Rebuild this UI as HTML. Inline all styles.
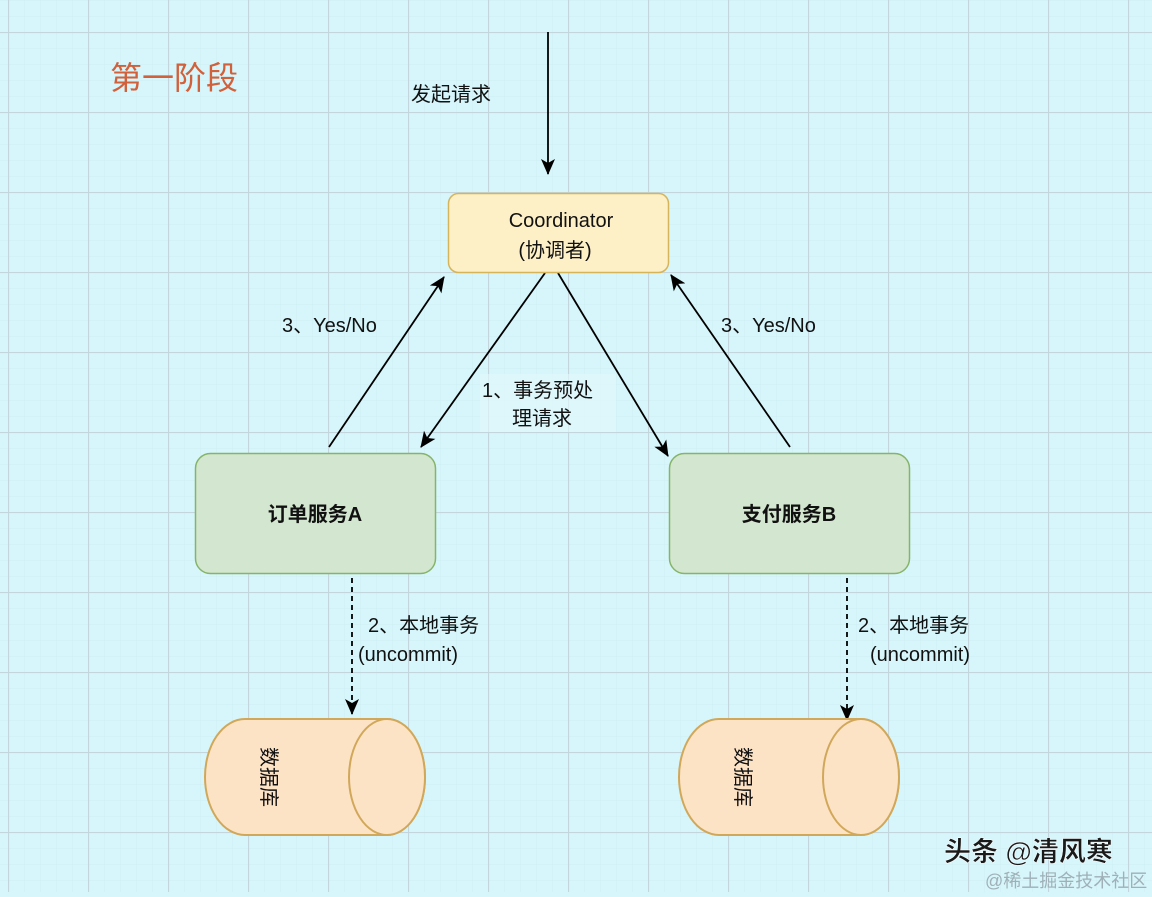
<!DOCTYPE html>
<html><head><meta charset="utf-8"><style>
html,body{margin:0;padding:0;}
body{width:1152px;height:892px;overflow:hidden;background:#d6f6fb;}
svg text{font-family:"Liberation Sans","Noto Sans CJK SC",sans-serif;}
</style></head><body>
<svg width="1152" height="892" xmlns="http://www.w3.org/2000/svg">
<defs>
<pattern id="minor" width="16" height="16" patternUnits="userSpaceOnUse" x="8" y="0">
<path d="M0 0H16M0 0V16" stroke="#cdeef3" stroke-width="1" fill="none"/>
</pattern>
<pattern id="major" width="80" height="80" patternUnits="userSpaceOnUse" x="8" y="32">
<path d="M0 0.5H80M0.5 0V80" stroke="#c3d6de" stroke-width="1.2" fill="none"/>
</pattern>
<marker id="ah" markerWidth="16" markerHeight="14" refX="15" refY="7" orient="auto" markerUnits="userSpaceOnUse" viewBox="0 0 16 14">
<path d="M0 0L16 7L0 14L4 7Z" fill="#000"/>
</marker>
</defs>
<rect width="1152" height="892" fill="#d6f6fb"/>
<rect width="1152" height="892" fill="url(#minor)"/>
<rect width="1152" height="892" fill="url(#major)"/>

<text x="110" y="89" font-size="32" fill="#d2603a">第一阶段</text>
<text x="411" y="101" font-size="20" fill="#111">发起请求</text>

<g stroke="#000" stroke-width="1.8" fill="none" marker-end="url(#ah)">
<line x1="548" y1="32" x2="548" y2="174"/>
<line x1="329" y1="447" x2="444" y2="277"/>
<line x1="545" y1="273" x2="421" y2="447"/>
<line x1="558" y1="273" x2="668" y2="456"/>
<line x1="790" y1="447" x2="671" y2="275"/>
<line x1="352" y1="578" x2="352" y2="714" stroke-dasharray="5,4"/>
<line x1="847" y1="578" x2="847" y2="720" stroke-dasharray="5,4"/>
</g>

<rect x="448.5" y="193.5" width="220" height="79" rx="10" fill="#fdf0c6" stroke="#d6b45a" stroke-width="1.5"/>
<text x="561" y="227" font-size="20" text-anchor="middle" fill="#111">Coordinator</text>
<text x="555" y="257" font-size="20" text-anchor="middle" fill="#111">(协调者)</text>

<text x="282" y="332" font-size="20" fill="#111">3、Yes/No</text>
<text x="721" y="332" font-size="20" fill="#111">3、Yes/No</text>
<rect x="480" y="374" width="136" height="58" fill="#e2f8fb" opacity="0.6"/>
<text x="482" y="397" font-size="20" fill="#111">1、事务预处</text>
<text x="512" y="425" font-size="20" fill="#111">理请求</text>

<rect x="195.5" y="453.5" width="240" height="120" rx="15" fill="#d3e6cf" stroke="#86b46a" stroke-width="1.5"/>
<text x="315" y="521" font-size="20" font-weight="bold" text-anchor="middle" fill="#111">订单服务A</text>
<rect x="669.5" y="453.5" width="240" height="120" rx="15" fill="#d3e6cf" stroke="#86b46a" stroke-width="1.5"/>
<text x="789" y="521" font-size="20" font-weight="bold" text-anchor="middle" fill="#111">支付服务B</text>

<text x="368" y="632" font-size="20" fill="#111">2、本地事务</text>
<text x="358" y="661" font-size="20" fill="#111">(uncommit)</text>
<text x="858" y="632" font-size="20" fill="#111">2、本地事务</text>
<text x="870" y="661" font-size="20" fill="#111">(uncommit)</text>

<g stroke="#d1a85a" stroke-width="2" fill="#fde3c6">
<path d="M245 719H387A38 58 0 0 1 387 835H245A40 58 0 0 1 245 719Z"/>
<ellipse cx="387" cy="777" rx="38" ry="58"/>
<path d="M719 719H861A38 58 0 0 1 861 835H719A40 58 0 0 1 719 719Z"/>
<ellipse cx="861" cy="777" rx="38" ry="58"/>
</g>
<text transform="translate(268,777) rotate(90)" font-size="20" text-anchor="middle" dominant-baseline="central" fill="#111">数据库</text>
<text transform="translate(742,777) rotate(90)" font-size="20" text-anchor="middle" dominant-baseline="central" fill="#111">数据库</text>

<text x="944" y="861" font-size="27" fill="#1a1a1a" font-weight="bold" stroke="#fff" stroke-width="0.5">头条 @清风寒</text>
<text x="985" y="887" font-size="18" fill="#9fb0b8">@稀土掘金技术社区</text>
</svg>
</body></html>
